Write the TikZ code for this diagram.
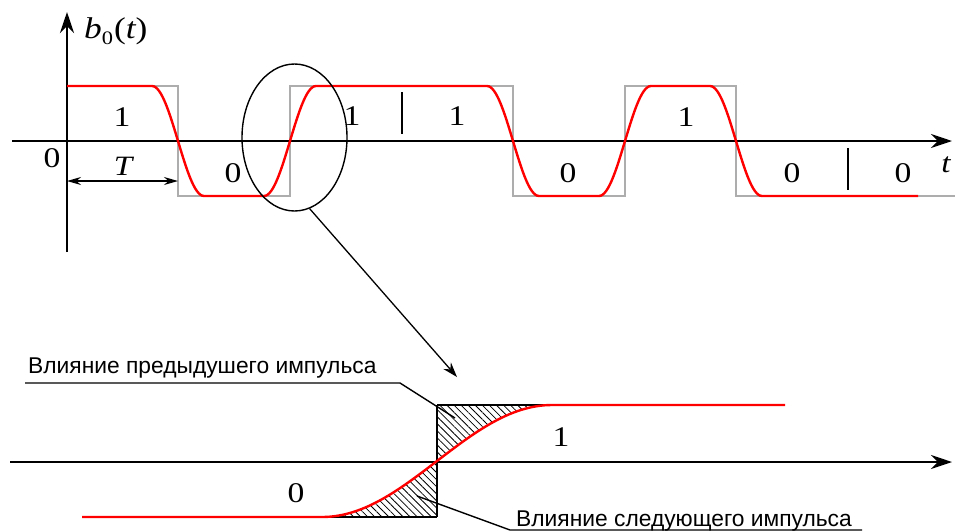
\documentclass[tikz,border=0pt]{standalone}
\usepackage{fontspec}
\setmainfont{Liberation Serif}
\setsansfont{Liberation Sans}
\newfontfamily\digf[FakeStretch=1.18]{Liberation Serif}
\usetikzlibrary{arrows.meta,patterns.meta,shapes.geometric}
\begin{document}
\begin{tikzpicture}[x=1pt,y=-1pt,
  axis/.style={line width=2.8pt,-{Stealth[length=21pt,width=14pt]}},
  baxis/.style={line width=2.2pt,-{Stealth[length=21pt,width=14pt]}},
  sq/.style={draw=black!32,line width=1.2pt},
  sig/.style={draw=red,line width=2.4pt},
  lbl/.style={font=\digf\fontsize{28.5}{31}\selectfont,inner sep=0pt},
  ital/.style={font=\digf\itshape\fontsize{28}{31}\selectfont,inner sep=0pt},
  txt/.style={font=\sffamily\fontsize{22.8}{26}\selectfont,inner sep=0pt},
  thin/.style={line width=1.4pt},
  hatch/.style={pattern={Lines[angle=-45,distance=5pt,line width=0.8pt]}},
]
\useasboundingbox (0,0) rectangle (955,531);
% ---------- top plot ----------
\coordinate (yb) at (67,252);
\coordinate (yt) at (67,12);
\coordinate (xl) at (12,141);
\coordinate (xr) at (952,141);
\draw[sq] (67,86) -- (178,86) -- (178,196) -- (290,196) -- (290,86) -- (513,86) -- (513,196)
  -- (625,196) -- (625,86) -- (736,86) -- (736,196) -- (955,196);
\draw[axis] (yb) -- (yt);
\draw[axis] (xl) -- (xr);
\draw[sig] (67,86) -- (152,86)
  -- plot[domain=152:204,samples=30] (\x,{141-55*cos(3.4615*(\x-152))})
  -- (264,196)
  -- plot[domain=264:316,samples=30] (\x,{141+55*cos(3.4615*(\x-264))})
  -- (487,86)
  -- plot[domain=487:539,samples=30] (\x,{141-55*cos(3.4615*(\x-487))})
  -- (599,196)
  -- plot[domain=599:651,samples=30] (\x,{141+55*cos(3.4615*(\x-599))})
  -- (710,86)
  -- plot[domain=710:762,samples=30] (\x,{141-55*cos(3.4615*(\x-710))})
  -- (918,196);
% ticks
\coordinate (t1a) at (402,92); \coordinate (t1b) at (402,134);
\coordinate (t2a) at (848,148); \coordinate (t2b) at (848,190);
\draw[thin] (t1a) -- (t1b);
\draw[thin] (t2a) -- (t2b);
% T arrow
\coordinate (Ta) at (67,181); \coordinate (Tb) at (178,181);
\draw[thin,{Stealth[length=14pt,width=8pt]}-{Stealth[length=14pt,width=8pt]}] (Ta) -- (Tb);
% labels
\node[lbl] (b1) at (122,117) {1};
\node[lbl] (b2) at (233,173) {0};
\node[lbl] (b3) at (352,116) {1};
\node[lbl] (b4) at (457,116) {1};
\node[lbl] (b5) at (568,173) {0};
\node[lbl] (b6) at (686,117) {1};
\node[lbl] (b7) at (792,173) {0};
\node[lbl] (b8) at (903,173) {0};
\node[lbl] (orig) at (52,158) {0};
\node[ital] (T) at (123,166) {T};
\node[ital] (tl) at (946,165) {t};
\node[ital,anchor=base west,font=\digf\itshape\fontsize{30}{32}\selectfont] (bt) at (84,38) {b\raisebox{-6pt}{\upshape\fontsize{19}{20}\selectfont 0}\kern1pt\upshape(\itshape t\upshape)};
% ellipse and zoom arrow
\node[ellipse,draw,line width=1.4pt,minimum width=105pt,minimum height=147pt,inner sep=0pt] (ell) at (294.5,137.5) {};
\coordinate (zt) at (457,377);
\draw[line width=1.3pt,-{Stealth[length=15pt,width=10pt]}] (ell.-78) -- (zt);
% ---------- bottom plot ----------
\coordinate (bl) at (10,462);
\coordinate (br) at (952,462);
\fill[hatch] (437,461) -- (437,405) -- (552,405)
  -- plot[domain=552:437,samples=40] (\x,{461+56*cos(0.78261*(\x-322))}) -- cycle;
\fill[hatch] (437,461) -- (437,517) -- (322,517)
  -- plot[domain=322:437,samples=40] (\x,{461+56*cos(0.78261*(\x-322))}) -- cycle;
\coordinate (bx1) at (437,405); \coordinate (bx2) at (437,517);
\draw[thin] (bx1) -- (bx2);
\draw[thin] (bx1) -- (545,405);
\draw[thin] (322,517) -- (bx2);
\draw[baxis] (bl) -- (br);
\draw[sig] (82,517) -- (322,517)
  -- plot[domain=322:552,samples=60] (\x,{461+56*cos(0.78261*(\x-322))})
  -- (785,405);
\node[lbl] (z0) at (296,493) {0};
\node[lbl] (z1) at (561,437) {1};
% leader texts
\node[txt,anchor=base west] (prev) at (28,373) {Влияние предыдушего импульса};
\node[txt,anchor=base west] (next) at (516,526) {Влияние следующего импульса};
\coordinate (p1) at (25,383); \coordinate (p2) at (400,383); \coordinate (p3) at (455,418);
\draw[thin] (p1) -- (p2) -- (p3);
\coordinate (n1) at (417,496); \coordinate (n2) at (510,530); \coordinate (n3) at (862,530);
\draw[thin] (n1) -- (n2) -- (n3);
\end{tikzpicture}
\end{document}
